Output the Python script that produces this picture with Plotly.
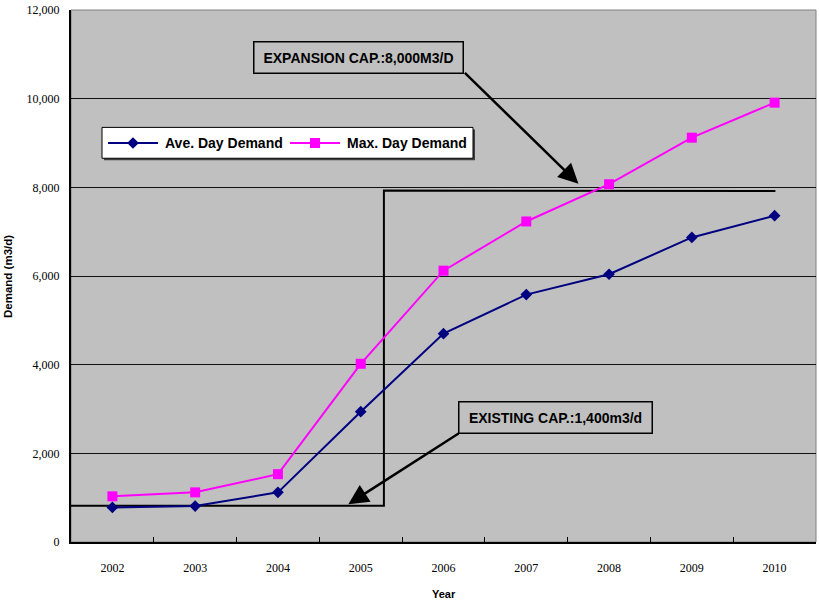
import plotly.graph_objects as go

years = [2002, 2003, 2004, 2005, 2006, 2007, 2008, 2009, 2010]
ave_day = [780, 810, 1120, 2940, 4700, 5580, 6040, 6870, 7360]
max_day = [1030, 1120, 1530, 4020, 6120, 7230, 8070, 9120, 9910]
series_names = ["Ave. Day Demand", "Max. Day Demand"]

# capacity step line (existing -> expansion)
cap_x = [2001.5, 2005.28, 2005.28, 2010.01]
cap_y = [820, 820, 7930, 7915]

y_ticks = [0, 2000, 4000, 6000, 8000, 10000, 12000]

NAVY = "#000080"
MAGENTA = "#FF00FF"
styles = [dict(color=NAVY, symbol="diamond", size=9),
          dict(color=MAGENTA, symbol="square", size=10)]

fig = go.Figure()
fig.add_trace(go.Scatter(x=cap_x, y=cap_y, mode="lines",
                         line=dict(color="black", width=2),
                         showlegend=False, hoverinfo="skip"))
for name, vals, st in zip(series_names, [ave_day, max_day], styles):
    fig.add_trace(go.Scatter(x=years, y=vals, mode="lines+markers", name=name,
                             line=dict(color=st["color"], width=2),
                             marker=dict(symbol=st["symbol"], size=st["size"], color=st["color"])))

# --- custom legend drawn on an overlay pixel-like axis (x2/y2 span the plot area) ---
PW, PH = 745, 534.7
leg_items = [(37, 92), (219, 274)]  # (line start, text start) relative to plot area
leg_y = 133.7
for (lx, tx), name, st in zip(leg_items, series_names, styles):
    fig.add_trace(go.Scatter(x=[lx, lx + 50], y=[leg_y, leg_y], xaxis="x2", yaxis="y2",
                             mode="lines", line=dict(color=st["color"], width=2),
                             showlegend=False, hoverinfo="skip"))
    fig.add_trace(go.Scatter(x=[lx + 25], y=[leg_y], xaxis="x2", yaxis="y2",
                             mode="markers",
                             marker=dict(symbol=st["symbol"], size=st["size"], color=st["color"]),
                             showlegend=False, hoverinfo="skip"))

ann_font = dict(family="Liberation Sans, Arial", size=14, color="black", weight="bold")
legend_annotations = [
    dict(text=name, xref="x2", yref="y2", x=tx, y=leg_y, showarrow=False,
         xanchor="left", yanchor="middle", font=ann_font)
    for (lx, tx), name in zip(leg_items, series_names)
]

fig.update_layout(
    width=819, height=600,
    margin=dict(l=71, r=3, t=7, b=58),
    paper_bgcolor="white",
    plot_bgcolor="#C0C0C0",
    showlegend=False,
    xaxis=dict(range=[2001.5, 2010.5], tickvals=years, ticktext=[str(y) for y in years],
               showgrid=False, zeroline=False, showline=True, linecolor="black", linewidth=2,
               ticks="", ticklabelstandoff=14,
               tickfont=dict(family="Liberation Serif, Times New Roman", size=12, color="black"),
               minor=dict(tickvals=[y + 0.5 for y in years[:-1]], ticks="inside", ticklen=5,
                          tickcolor="black", tickwidth=1, showgrid=False)),
    yaxis=dict(range=[0, 12000], tickvals=y_ticks, tickformat=",d",
               showgrid=True, gridcolor="#111111", gridwidth=1, zeroline=False,
               showline=True, linecolor="black", linewidth=2, ticks="", ticklabelstandoff=7,
               tickfont=dict(family="Liberation Serif, Times New Roman", size=12, color="black")),
    xaxis2=dict(overlaying="x", anchor="y2", range=[0, PW], visible=False, fixedrange=True),
    yaxis2=dict(overlaying="y", anchor="x2", range=[PH, 0], visible=False, fixedrange=True),
    shapes=[
        dict(type="rect", xref="paper", yref="paper", x0=0, x1=1, y0=0, y1=1,
             line=dict(color="#808080", width=1), layer="below"),
        # legend shadow + box
        dict(type="rect", xref="x2", yref="y2", x0=33, x1=404, y0=120, y1=151,
             line=dict(width=0), fillcolor="#404040", layer="below"),
        dict(type="rect", xref="x2", yref="y2", x0=31, x1=402, y0=118, y1=149,
             line=dict(color="black", width=1), fillcolor="white", layer="below"),
    ],
    annotations=legend_annotations + [
        dict(text="Year", xref="paper", yref="paper", x=0.5, y=-0.0973, showarrow=False,
             xanchor="center", yanchor="middle",
             font=dict(family="Liberation Sans, Arial", size=11, color="black", weight="bold")),
        dict(text="Demand (m3/d)", xref="paper", yref="paper", x=-0.0846, y=0.5, showarrow=False,
             textangle=-90, xanchor="center", yanchor="middle",
             font=dict(family="Liberation Sans, Arial", size=11.5, color="black", weight="bold")),
        # text boxes
        dict(text="EXPANSION CAP.:8,000M3/D", xref="x", yref="y", x=2004.97, y=10930,
             showarrow=False, bgcolor="#C0C0C0", bordercolor="black", borderwidth=1.5,
             borderpad=7, width=194, font=ann_font, xanchor="center", yanchor="middle"),
        dict(text="EXISTING CAP.:1,400m3/d", xref="x", yref="y", x=2007.35, y=2810,
             showarrow=False, bgcolor="#C0C0C0", bordercolor="black", borderwidth=1.5,
             borderpad=7, width=178, font=ann_font, xanchor="center", yanchor="middle"),
        # arrows
        dict(text="", xref="x", yref="y", x=2007.63, y=8079, axref="x", ayref="y",
             ax=2006.24, ay=10615, showarrow=True, arrowhead=2, arrowsize=1.6,
             arrowwidth=2.5, arrowcolor="black", standoff=0, startstandoff=0),
        dict(text="", xref="x", yref="y", x=2004.85, y=853, axref="x", ayref="y",
             ax=2006.20, ay=2468, showarrow=True, arrowhead=2, arrowsize=1.6,
             arrowwidth=2.5, arrowcolor="black", standoff=0, startstandoff=0),
    ],
)

fig.write_html("out.html")
